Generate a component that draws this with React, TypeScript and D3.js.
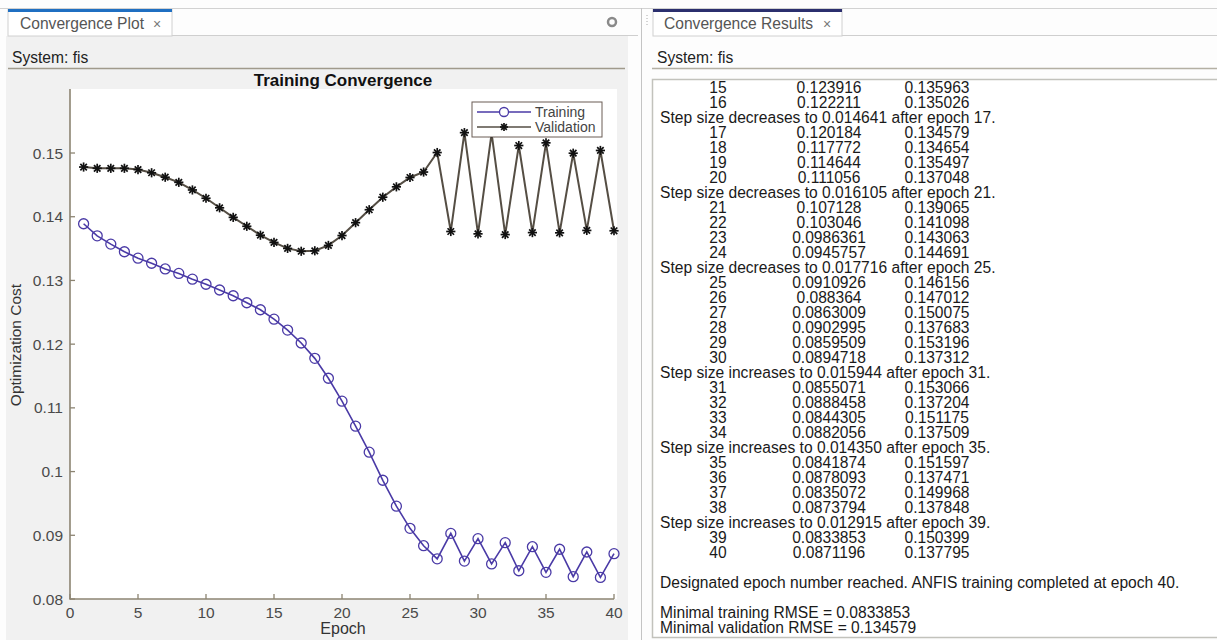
import React from "react";
import * as d3 from "d3";

const epochs = [1,2,3,4,5,6,7,8,9,10,11,12,13,14,15,16,17,18,19,20,21,22,23,24,25,26,27,28,29,30,31,32,33,34,35,36,37,38,39,40];
const trainingRMSE = [0.1389,0.1370,0.1357,0.1345,0.1335,0.1327,0.1318,0.1311,0.1302,0.1294,0.1285,0.1276,0.1265,0.1254,
  0.123916,0.122211,0.120184,0.117772,0.114644,0.111056,0.107128,0.103046,0.0986361,0.0945757,
  0.0910926,0.088364,0.0863009,0.0902995,0.0859509,0.0894718,0.0855071,0.0888458,0.0844305,0.0882056,
  0.0841874,0.0878093,0.0835072,0.0873794,0.0833853,0.0871196];
const validationRMSE = [0.1478,0.1476,0.1476,0.1476,0.1474,0.1469,0.1462,0.1454,0.1442,0.1429,0.1414,0.1399,0.1385,0.1371,
  0.135963,0.135026,0.134579,0.134654,0.135497,0.137048,0.139065,0.141098,0.143063,0.144691,
  0.146156,0.147012,0.150075,0.137683,0.153196,0.137312,0.153066,0.137204,0.151175,0.137509,
  0.151597,0.137471,0.149968,0.137848,0.150399,0.137795];
const xTicks = [0,5,10,15,20,25,30,35,40];
const yTicks = [0.08,0.09,0.1,0.11,0.12,0.13,0.14,0.15];
const firstTableEpoch = 15;
const stepEpochs = [17,21,25,31,35,39];
const stepKinds = ["decreases","decreases","decreases","increases","increases","increases"];
const stepSizes = ["0.014641","0.016105","0.017716","0.015944","0.014350","0.012915"];
const summaryLines = [
  "",
  "Designated epoch number reached. ANFIS training completed at epoch 40.",
  "",
  "Minimal training RMSE = 0.0833853",
  "Minimal validation RMSE = 0.134579",
];

const TRAIN_COLOR = "#4a3aa6";
const VAL_LINE = "#554e44";
const AXIS_COLOR = "#8c8472";
const FONT = "'Liberation Sans', Arial, sans-serif";
const TXT = 15.6;

export default function App() {
  const x = d3.scaleLinear().domain([0, 40]).range([70, 614]);
  const y = d3.scaleLinear().domain([0.08, 0.16]).range([599, 89.3]);
  const line = d3.line<number>().x((_, i) => x(epochs[i])).y((d) => y(d));

  const trainPath = line(trainingRMSE) || "";
  const valPath = line(validationRMSE) || "";

  const star = (cx: number, cy: number, r: number, key: string | number) => {
    const d = r * 0.7071;
    return (
      <g key={key} stroke="#111" strokeWidth={1.7}>
        <line x1={cx - r} y1={cy} x2={cx + r} y2={cy} />
        <line x1={cx} y1={cy - r} x2={cx} y2={cy + r} />
        <line x1={cx - d} y1={cy - d} x2={cx + d} y2={cy + d} />
        <line x1={cx - d} y1={cy + d} x2={cx + d} y2={cy - d} />
      </g>
    );
  };

  type Row = { kind: "data"; e: number; t: number; v: number } | { kind: "text"; s: string };
  const rows: Row[] = [];
  epochs.forEach((e, i) => {
    if (e < firstTableEpoch) return;
    const si = stepEpochs.indexOf(e);
    if (si >= 0) rows.push({ kind: "text", s: `Step size ${stepKinds[si]} to ${stepSizes[si]} after epoch ${e}.` });
    rows.push({ kind: "data", e, t: trainingRMSE[i], v: validationRMSE[i] });
  });
  summaryLines.forEach((s) => rows.push({ kind: "text", s }));

  const rowY = (i: number) => 87 + 15 * i + 5.6;

  return (
    <svg width={1217} height={640} style={{ position: "absolute", left: 0, top: 0, background: "#fdfdfd" }} fontFamily={FONT}>
      <line x1={0} y1={8.5} x2={1217} y2={8.5} stroke="#d2d2d2" />
      {/* left panel */}
      <rect x={6} y={36} width={622} height={604} fill="#f1f1f1" />
      <rect x={8} y={9} width={164} height={27} fill="#ffffff" stroke="#d0d0d0" />
      <rect x={8} y={9} width={164} height={3} fill="#1f6fc2" />
      <text x={20} y={28.5} fontSize={TXT} fill="#555">Convergence Plot</text>
      <text x={153} y={28.5} fontSize={14} fill="#777">×</text>
      <line x1={172} y1={35.5} x2={638} y2={35.5} stroke="#cfcfcf" />
      <circle cx={612} cy={22} r={4} fill="none" stroke="#8a8a8a" strokeWidth={2.5} />
      <text x={12} y={62.5} fontSize={TXT} fill="#222">System: fis</text>
      <line x1={8} y1={68.5} x2={625} y2={68.5} stroke="#a09a8c" strokeWidth={1.5} />
      <line x1={641.5} y1={8} x2={641.5} y2={640} stroke="#c4c4c4" />
      <line x1={647} y1={15} x2={647} y2={26} stroke="#aaa" strokeDasharray="1,2" />

      {/* plot area */}
      <rect x={70} y={89} width={547} height={510} fill="#ffffff" />
      <text x={343} y={86} fontSize={17} fontWeight="bold" textAnchor="middle" fill="#111">Training Convergence</text>

      <line x1={70} y1={89} x2={70} y2={599.5} stroke={AXIS_COLOR} strokeWidth={1.6} />
      <line x1={69.5} y1={599} x2={614} y2={599} stroke={AXIS_COLOR} strokeWidth={1.6} />
      {yTicks.map((t) => (
        <g key={"y" + t}>
          <line x1={70} x2={75} y1={y(t)} y2={y(t)} stroke={AXIS_COLOR} strokeWidth={1.3} />
          <text x={63} y={y(t) + 5.5} fontSize={15.5} textAnchor="end" fill="#4a4a4a">{d3.format("~g")(t)}</text>
        </g>
      ))}
      {xTicks.map((t) => (
        <g key={"x" + t}>
          <line x1={x(t)} x2={x(t)} y1={599} y2={594} stroke={AXIS_COLOR} strokeWidth={1.3} />
          <text x={x(t)} y={618} fontSize={15.5} textAnchor="middle" fill="#4a4a4a">{t}</text>
        </g>
      ))}
      <text x={343} y={634} fontSize={16} textAnchor="middle" fill="#333">Epoch</text>
      <text transform={`translate(21,345) rotate(-90)`} fontSize={15.5} textAnchor="middle" fill="#333">Optimization Cost</text>

      <path d={valPath} fill="none" stroke={VAL_LINE} strokeWidth={2} />
      {validationRMSE.map((v, i) => star(x(epochs[i]), y(v), 4.6, "s" + i))}
      <path d={trainPath} fill="none" stroke={TRAIN_COLOR} strokeWidth={1.6} />
      {trainingRMSE.map((v, i) => (
        <circle key={"c" + i} cx={x(epochs[i])} cy={y(v)} r={5} fill="none" stroke={TRAIN_COLOR} strokeWidth={1.3} />
      ))}

      {/* legend */}
      <rect x={472} y={102} width={130} height={35} fill="#ffffff" stroke="#6a5c55" strokeWidth={1} />
      <line x1={477} x2={531} y1={112} y2={112} stroke={TRAIN_COLOR} strokeWidth={1.6} />
      <circle cx={504} cy={112} r={4.5} fill="#fff" stroke={TRAIN_COLOR} strokeWidth={1.3} />
      <text x={535} y={117} fontSize={14} fill="#444">Training</text>
      <line x1={477} x2={531} y1={127} y2={127} stroke={VAL_LINE} strokeWidth={1.6} />
      {star(504, 127, 4, "legstar")}
      <text x={535} y={132} fontSize={14} fill="#444">Validation</text>

      {/* right panel */}
      <rect x={653} y={9} width={189} height={27} fill="#ffffff" stroke="#d0d0d0" />
      <rect x={653} y={9} width={189} height={3} fill="#2b2f6e" />
      <text x={664} y={28.5} fontSize={TXT} fill="#555">Convergence Results</text>
      <text x={823} y={28.5} fontSize={14} fill="#777">×</text>
      <line x1={842} y1={35.5} x2={1217} y2={35.5} stroke="#cfcfcf" />
      <text x={657} y={62.5} fontSize={TXT} fill="#222">System: fis</text>
      <line x1={652} y1={68.5} x2={1217} y2={68.5} stroke="#b4b0a4" strokeWidth={1.5} />
      <rect x={652.5} y={79.5} width={580} height={558} fill="#ffffff" stroke="#c2c2bc" strokeWidth={1.5} />
      {rows.map((r, i) =>
        r.kind === "data" ? (
          <g key={"r" + i} fontSize={TXT} fill="#1a1a1a" textAnchor="middle">
            <text x={718} y={rowY(i)}>{r.e}</text>
            <text x={829} y={rowY(i)}>{String(r.t)}</text>
            <text x={937} y={rowY(i)}>{String(r.v)}</text>
          </g>
        ) : (
          <text key={"r" + i} x={660} y={rowY(i)} fontSize={TXT} fill="#1a1a1a">{r.s}</text>
        )
      )}
    </svg>
  );
}
